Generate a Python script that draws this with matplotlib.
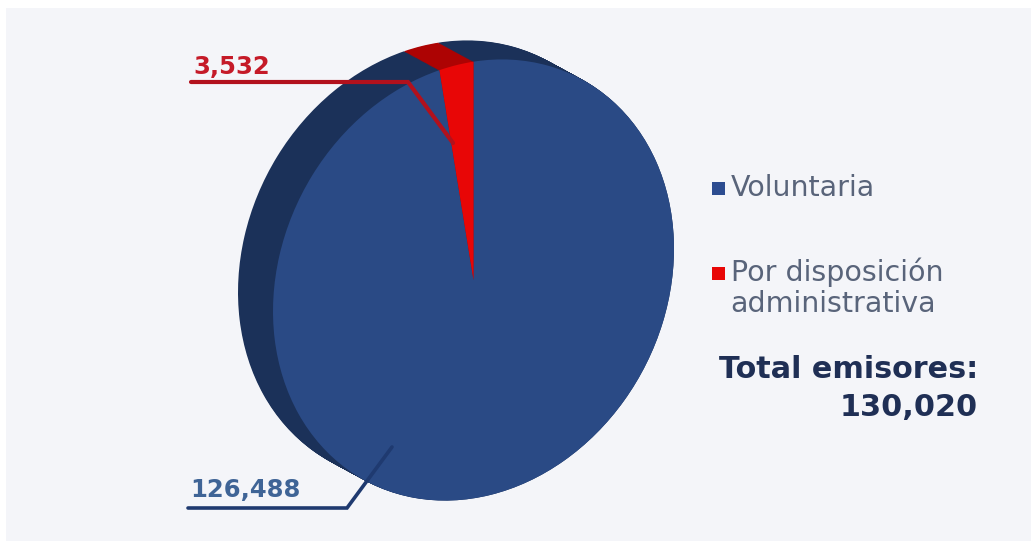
import numpy as np
import matplotlib
matplotlib.use("Agg")
from matplotlib import pyplot as plt
from matplotlib.patches import Rectangle, Wedge
from matplotlib.transforms import Affine2D

# Datos
categories = ["Voluntaria", "Por disposición\nadministrativa"]
values = [126488, 3532]
value_labels = ["126,488", "3,532"]
total_label = "Total emisores:\n130,020"

# Colores
BACKGROUND = "#f4f5f9"
BLUE = "#2a4a85"
BLUE_SIDE = "#1b3159"
RED = "#e80606"
RED_SIDE = "#ad0303"
LEADER_RED = "#b2111d"
LEADER_BLUE = "#1f3a70"

W, H = 1031, 541
plt.rcParams["font.family"] = ["DejaVu Sans"]

fig = plt.figure(figsize=(W / 100, H / 100), dpi=100, facecolor="white")
ax = fig.add_axes([0, 0, 1, 1])
ax.set_xlim(0, W)
ax.set_ylim(H, 0)
ax.axis("off")

ax.add_patch(Rectangle((6, 8), W - 6, H - 8, facecolor=BACKGROUND, edgecolor="none"))

# Pastel inclinado: elipse girada, con el grosor hecho de capas
rx, ry = 192, 228
tilt = 28
cx, cy = 473.5, 280
offset = np.array([-35, -19])

# el borde derecho de la rebanada roja queda vertical
t_rad = np.radians(tilt)
start_angle = np.degrees(np.arctan2(rx * np.cos(t_rad), -ry * np.sin(t_rad)))
red_span = 360 * values[1] / sum(values)


def draw_pie(center, blue, red, zorder):
    tr = Affine2D().scale(rx, -ry).rotate_deg(tilt).translate(*center) + ax.transData
    ax.add_patch(Wedge((0, 0), 1, start_angle + red_span, start_angle + 360,
                       transform=tr, facecolor=blue, edgecolor="none", zorder=zorder))
    ax.add_patch(Wedge((0, 0), 1, start_angle, start_angle + red_span,
                       transform=tr, facecolor=red, edgecolor="none", zorder=zorder))


steps = 40
for i, t in enumerate(np.linspace(1, 0, steps)):
    draw_pie(np.array([cx, cy]) + t * offset, BLUE_SIDE, RED_SIDE, 2 + i * 0.001)
draw_pie((cx, cy), BLUE, RED, 3)

# Líneas guía
ax.plot([191, 408, 453], [82, 82, 143], color=LEADER_RED, lw=3,
        solid_joinstyle="miter", solid_capstyle="round", zorder=4)
ax.plot([188, 347, 392], [508, 508, 447], color=LEADER_BLUE, lw=2.6,
        solid_joinstyle="miter", solid_capstyle="round", zorder=4)

ax.text(193, 74, value_labels[1], color="#c51a28", fontsize=17.5, fontweight="bold",
        ha="left", va="baseline", zorder=5)
ax.text(190, 497, value_labels[0], color="#3f6496", fontsize=17.5, fontweight="bold",
        ha="left", va="baseline", zorder=5)

# Leyenda
ax.add_patch(Rectangle((712, 182), 13, 13, facecolor="#2c4c90", edgecolor="none"))
ax.add_patch(Rectangle((712, 267), 13, 13, facecolor=RED, edgecolor="none"))
ax.text(731, 196, categories[0], color="#59647a", fontsize=20.5, ha="left", va="baseline")
ax.text(731, 281, categories[1].split("\n")[0], color="#59647a", fontsize=20.5,
        ha="left", va="baseline")
ax.text(730, 312, categories[1].split("\n")[1], color="#59647a", fontsize=20.5,
        ha="left", va="baseline")

line1, line2 = total_label.split("\n")
ax.text(978, 378, line1, color="#1f2f55", fontsize=21.8, fontweight="bold",
        ha="right", va="baseline")
ax.text(978, 416, line2, color="#1f2f55", fontsize=21.8, fontweight="bold",
        ha="right", va="baseline")

fig.savefig("out.png", dpi=100, facecolor="white")
